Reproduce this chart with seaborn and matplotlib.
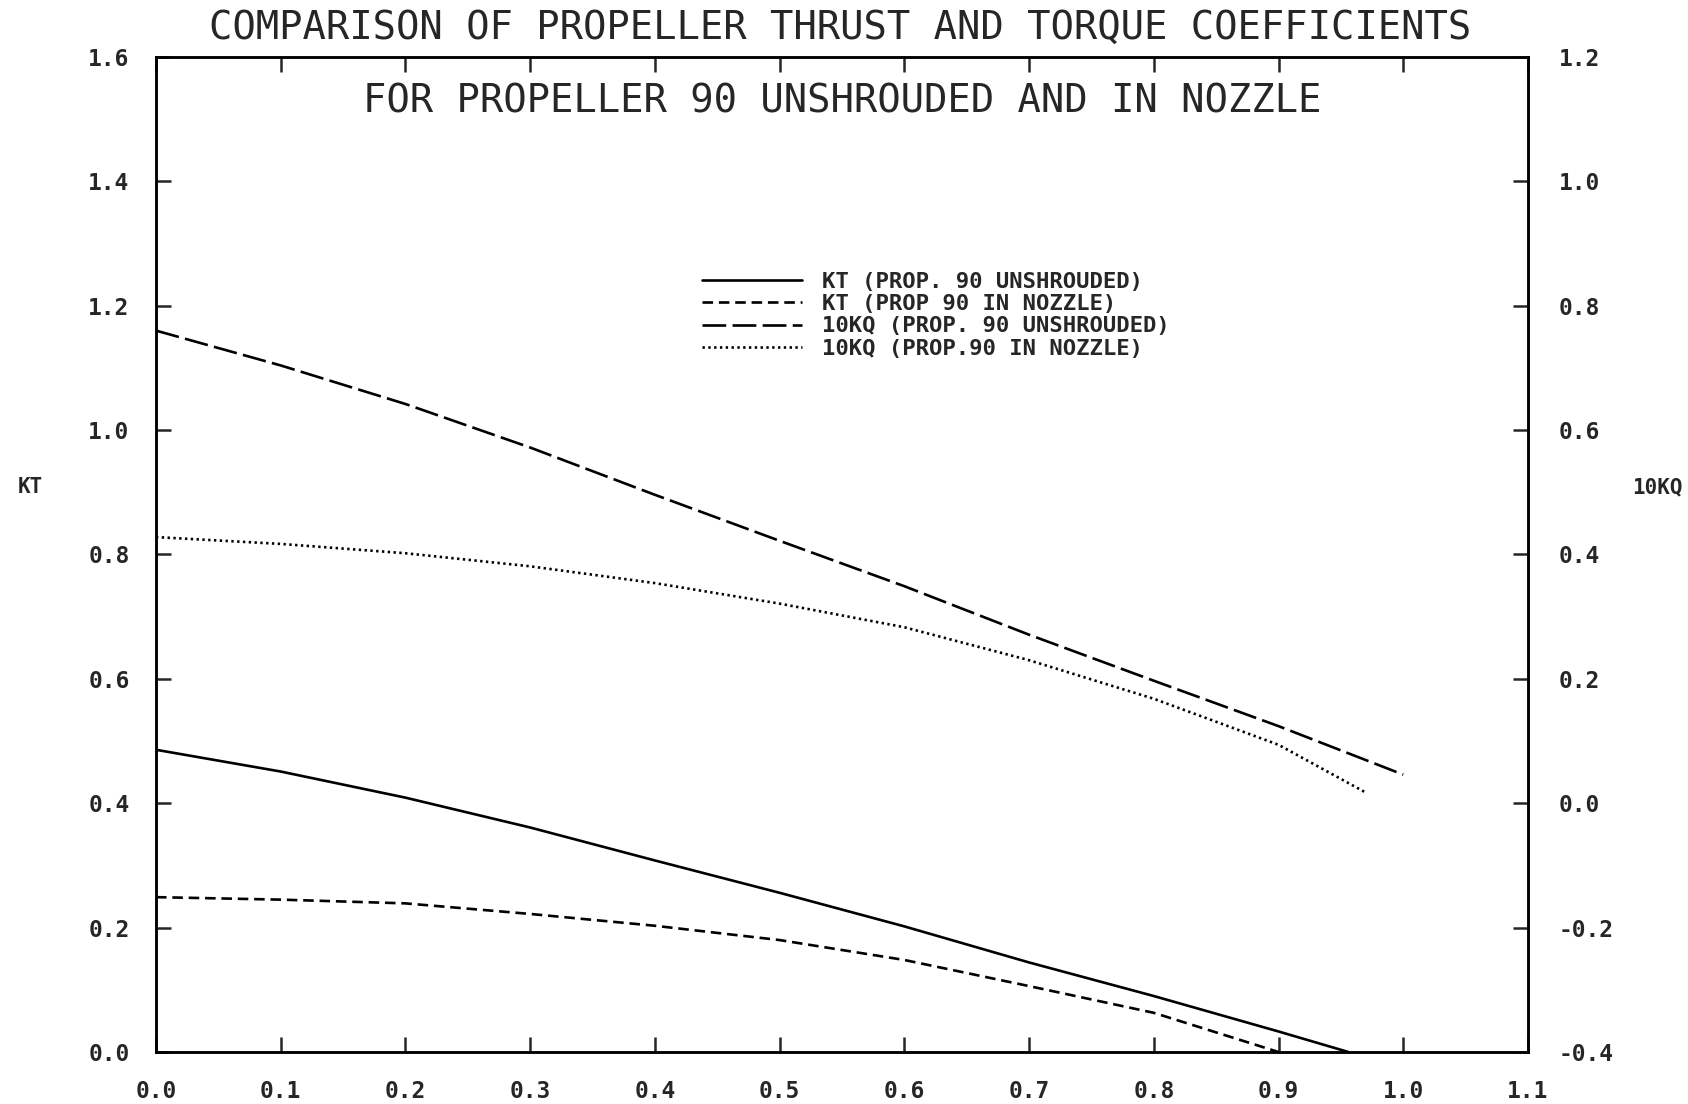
import numpy as np
import pandas as pd
import seaborn as sns
import matplotlib.pyplot as plt
from matplotlib.ticker import FormatStrFormatter

# advance coefficient J
j_kt_open = [0.0, 0.1, 0.2, 0.3, 0.4, 0.5, 0.6, 0.7, 0.8, 0.9, 0.956]
kt_open = [0.486, 0.451, 0.409, 0.361, 0.308, 0.256, 0.202, 0.144, 0.090, 0.033, 0.0]

j_kt_nozzle = [0.0, 0.1, 0.2, 0.3, 0.4, 0.5, 0.6, 0.7, 0.8, 0.9]
kt_nozzle = [0.249, 0.245, 0.239, 0.222, 0.203, 0.180, 0.148, 0.106, 0.063, 0.0]

j_kq_open = [0.0, 0.1, 0.2, 0.3, 0.4, 0.5, 0.6, 0.7, 0.8, 0.9, 1.0]
kq10_open = [0.760, 0.704, 0.642, 0.572, 0.496, 0.422, 0.349, 0.271, 0.197, 0.124, 0.046]

j_kq_nozzle = [0.0, 0.1, 0.2, 0.3, 0.4, 0.5, 0.6, 0.7, 0.8, 0.9, 0.971]
kq10_nozzle = [0.428, 0.417, 0.402, 0.381, 0.354, 0.321, 0.283, 0.230, 0.168, 0.094, 0.016]

labels = ["KT (PROP. 90 UNSHROUDED)", "KT (PROP 90 IN NOZZLE)",
          "10KQ (PROP. 90 UNSHROUDED)", "10KQ (PROP.90 IN NOZZLE)"]

sns.set_style("white")
plt.rcParams["font.family"] = ["DejaVu Sans Mono", "DejaVu Sans"]
plt.rcParams["axes.unicode_minus"] = False

fig = plt.figure(figsize=(16.88, 11.04), dpi=100)
ax = fig.add_axes([0.0924, 0.0471, 0.8128, 0.9013])
ax2 = ax.twinx()

lw = 1.9
sns.lineplot(x=j_kt_open, y=kt_open, ax=ax, color="black", lw=lw,
             linestyle="-", label=labels[0], legend=False)
sns.lineplot(x=j_kt_nozzle, y=kt_nozzle, ax=ax, color="black", lw=lw,
             linestyle=(0, (4, 2.2)), label=labels[1], legend=False)
sns.lineplot(x=j_kq_open, y=kq10_open, ax=ax2, color="black", lw=lw,
             linestyle=(0, (9, 2.4)), label=labels[2], legend=False)
sns.lineplot(x=j_kq_nozzle, y=kq10_nozzle, ax=ax2, color="black", lw=lw,
             linestyle=(0, (0.9, 1.3)), label=labels[3], legend=False)

ax.set_xlim(0, 1.1)
ax.set_ylim(0, 1.6)
ax2.set_ylim(-0.4, 1.2)
ax.set_xticks(np.arange(0, 1.11, 0.1))
ax.set_yticks(np.arange(0, 1.61, 0.2))
ax2.set_yticks(np.arange(-0.4, 1.21, 0.2))
ax.xaxis.set_major_formatter(FormatStrFormatter("%.1f"))
ax.yaxis.set_major_formatter(FormatStrFormatter("%.1f"))
ax2.yaxis.set_major_formatter(FormatStrFormatter("%.1f"))

tick_font = dict(labelsize=16.5)
ax.tick_params(axis="x", direction="in", top=True, bottom=True, length=11,
               width=1.8, pad=20, **tick_font)
ax.tick_params(axis="y", direction="in", left=True, right=False, length=11,
               width=1.8, pad=19, **tick_font)
ax2.tick_params(axis="y", direction="in", right=True, length=11,
                width=1.8, pad=22, **tick_font)
for t in ax.get_xticklabels() + ax.get_yticklabels() + ax2.get_yticklabels():
    t.set_fontweight("bold")

for a in (ax, ax2):
    for s in a.spines.values():
        s.set_visible(True)
        s.set_color("black")
        s.set_linewidth(1.8)
ax.set_xlabel("")
ax.set_ylabel("")
ax2.set_ylabel("")

fig.text(0.498, 0.975, "COMPARISON OF PROPELLER THRUST AND TORQUE COEFFICIENTS",
         ha="center", va="center", fontsize=28)
ax.text(0.5, 0.955, "FOR PROPELLER 90 UNSHROUDED AND IN NOZZLE",
        transform=ax.transAxes, ha="center", va="center", fontsize=28)
fig.text(0.018, 0.559, "KT", ha="center", va="center", fontsize=15, fontweight="bold")
fig.text(0.982, 0.559, "10KQ", ha="center", va="center", fontsize=15, fontweight="bold")

handles = ax.get_lines()[:2] + ax2.get_lines()[:2]
leg = ax.legend(handles, labels, loc="upper left", bbox_to_anchor=(0.398, 0.784),
                frameon=False, fontsize=16, handlelength=4.5, handletextpad=0.9,
                labelspacing=0.1, borderpad=0, borderaxespad=0)
for t in leg.get_texts():
    t.set_fontweight("bold")

fig.savefig("out.png", dpi=100)
